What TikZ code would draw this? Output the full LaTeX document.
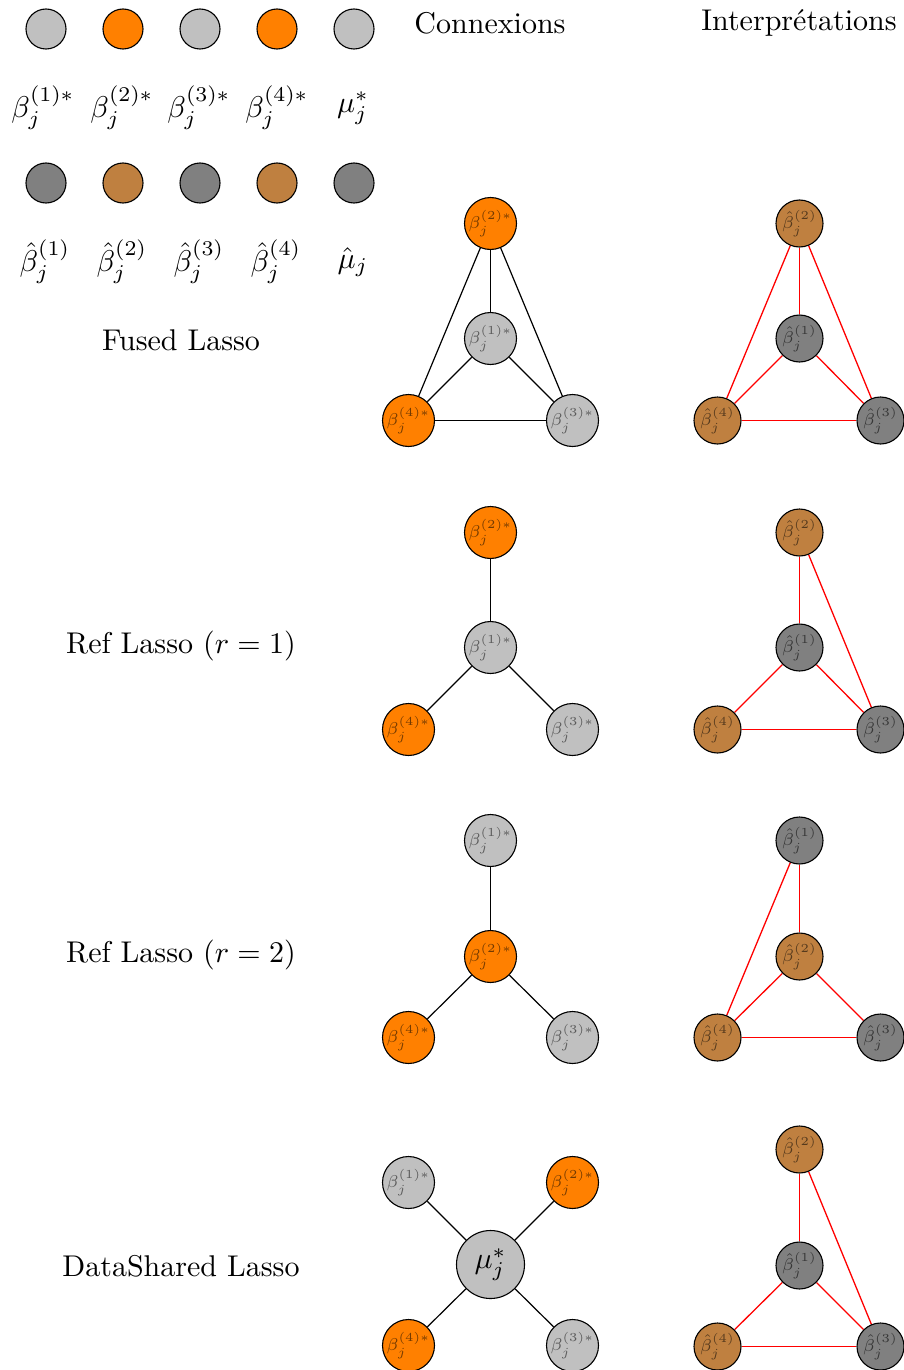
\documentclass[tikz,border=0pt]{standalone}
\usepackage{graphicx}
\usetikzlibrary{backgrounds}
\definecolor{lgray}{RGB}{192,192,192}
\definecolor{dgray}{RGB}{128,128,128}
\definecolor{corange}{RGB}{255,128,0}
\definecolor{cbrown}{RGB}{191,128,64}
\definecolor{tlgray}{RGB}{90,90,90}
\definecolor{tdgray}{RGB}{55,55,55}
\definecolor{torange}{RGB}{115,58,0}
\definecolor{tbrown}{RGB}{86,58,29}
\definecolor{ered}{RGB}{255,0,0}
\newcommand\smlab[1]{\scalebox{2.45}{\scriptsize$#1$}}
\newcommand\biglab[1]{\scalebox{3}{$#1$}}
\newcommand\txtlab[1]{\scalebox{3}{#1}}
\tikzset{
  nd/.style={circle, draw=black, line width=1.1pt, inner sep=0pt},
  st/.style={nd, minimum size=52pt},
  ht/.style={nd, minimum size=47pt},
  mu/.style={nd, minimum size=68pt},
  lg/.style={circle, draw=black, line width=1.1pt, minimum size=40pt, inner sep=0pt},
  cg/.style={fill=lgray, text=tlgray}, co/.style={fill=corange, text=torange},
  hd/.style={fill=dgray, text=tdgray}, hb/.style={fill=cbrown, text=tbrown},
  ce/.style={line width=1.2pt, draw=black},
  ie/.style={line width=1.3pt, draw=ered},
  lbl/.style={inner sep=0pt},
}
\begin{document}
\begin{tikzpicture}[x=1pt,y=-1pt]
\useasboundingbox (0,0) rectangle (904,1370);
% legend
\node[lg,cg] (l1) at (46,29) {};
\node[lg,co] (l2) at (123,29) {};
\node[lg,cg] (l3) at (200,29) {};
\node[lg,co] (l4) at (277,29) {};
\node[lg,cg] (l5) at (354,29) {};
\node[lbl] (t1) at (43,108) {\biglab{\beta_j^{(1)*}}};
\node[lbl] (t2) at (122,108) {\biglab{\beta_j^{(2)*}}};
\node[lbl] (t3) at (199,108) {\biglab{\beta_j^{(3)*}}};
\node[lbl] (t4) at (277,108) {\biglab{\beta_j^{(4)*}}};
\node[lbl] (t5) at (353,108) {\biglab{\mu_j^{*}}};
\node[lg,hd] (m1) at (46,183) {};
\node[lg,hb] (m2) at (123,183) {};
\node[lg,hd] (m3) at (200,183) {};
\node[lg,hb] (m4) at (277,183) {};
\node[lg,hd] (m5) at (354,183) {};
\node[lbl] (u1) at (45,262) {\biglab{\hat\beta_j^{(1)}}};
\node[lbl] (u2) at (122,262) {\biglab{\hat\beta_j^{(2)}}};
\node[lbl] (u3) at (199,262) {\biglab{\hat\beta_j^{(3)}}};
\node[lbl] (u4) at (276,262) {\biglab{\hat\beta_j^{(4)}}};
\node[lbl] (u5) at (353,262) {\biglab{\hat\mu_j}};
% headers
\node[lbl] (h1) at (490,23) {\txtlab{Connexions}};
\node[lbl] (h2) at (799,23) {\txtlab{Interprétations}};
% row labels
\node[lbl] (r1) at (181,340) {\txtlab{Fused Lasso}};
\node[lbl] (r2) at (181,646) {\txtlab{Ref Lasso ($r=1$)}};
\node[lbl] (r3) at (181,955) {\txtlab{Ref Lasso ($r=2$)}};
\node[lbl] (r4) at (181,1266) {\txtlab{DataShared Lasso}};
\begin{scope}[shift={(0.5,0.5)}]
% row 1
\node[st,co] (a1t) at (490,223) {\smlab{\beta_j^{(2)*}}};
\node[st,cg] (a1c) at (490,338) {\smlab{\beta_j^{(1)*}}};
\node[st,co] (a1l) at (408,420) {\smlab{\beta_j^{(4)*}}};
\node[st,cg] (a1r) at (572,420) {\smlab{\beta_j^{(3)*}}};
\node[ht,hb] (b1t) at (799,223) {\smlab{\hat\beta_j^{(2)}}};
\node[ht,hd] (b1c) at (799,338) {\smlab{\hat\beta_j^{(1)}}};
\node[ht,hb] (b1l) at (717,420) {\smlab{\hat\beta_j^{(4)}}};
\node[ht,hd] (b1r) at (880,420) {\smlab{\hat\beta_j^{(3)}}};
% row 2
\node[st,co] (a2t) at (490,532) {\smlab{\beta_j^{(2)*}}};
\node[st,cg] (a2c) at (490,647) {\smlab{\beta_j^{(1)*}}};
\node[st,co] (a2l) at (408,729) {\smlab{\beta_j^{(4)*}}};
\node[st,cg] (a2r) at (572,729) {\smlab{\beta_j^{(3)*}}};
\node[ht,hb] (b2t) at (799,532) {\smlab{\hat\beta_j^{(2)}}};
\node[ht,hd] (b2c) at (799,647) {\smlab{\hat\beta_j^{(1)}}};
\node[ht,hb] (b2l) at (717,729) {\smlab{\hat\beta_j^{(4)}}};
\node[ht,hd] (b2r) at (880,729) {\smlab{\hat\beta_j^{(3)}}};
% row 3
\node[st,cg] (a3t) at (490,840) {\smlab{\beta_j^{(1)*}}};
\node[st,co] (a3c) at (490,956) {\smlab{\beta_j^{(2)*}}};
\node[st,co] (a3l) at (408,1037) {\smlab{\beta_j^{(4)*}}};
\node[st,cg] (a3r) at (572,1037) {\smlab{\beta_j^{(3)*}}};
\node[ht,hd] (b3t) at (799,840) {\smlab{\hat\beta_j^{(1)}}};
\node[ht,hb] (b3c) at (799,956) {\smlab{\hat\beta_j^{(2)}}};
\node[ht,hb] (b3l) at (717,1037) {\smlab{\hat\beta_j^{(4)}}};
\node[ht,hd] (b3r) at (880,1037) {\smlab{\hat\beta_j^{(3)}}};
% row 4
\node[mu,cg,text=black] (a4m) at (490,1264) {\biglab{\mu_j^{*}}};
\node[st,cg] (a4a) at (408,1182) {\smlab{\beta_j^{(1)*}}};
\node[st,co] (a4b) at (572,1182) {\smlab{\beta_j^{(2)*}}};
\node[st,co] (a4l) at (408,1345) {\smlab{\beta_j^{(4)*}}};
\node[st,cg] (a4r) at (572,1345) {\smlab{\beta_j^{(3)*}}};
\node[ht,hb] (b4t) at (799,1149) {\smlab{\hat\beta_j^{(2)}}};
\node[ht,hd] (b4c) at (799,1265) {\smlab{\hat\beta_j^{(1)}}};
\node[ht,hb] (b4l) at (717,1346) {\smlab{\hat\beta_j^{(4)}}};
\node[ht,hd] (b4r) at (880,1346) {\smlab{\hat\beta_j^{(3)}}};
\end{scope}
% edges
\begin{scope}[on background layer]
\draw[ce] (a1t) -- (a1c); \draw[ce] (a1t) -- (a1l); \draw[ce] (a1t) -- (a1r);
\draw[ce] (a1c) -- (a1l); \draw[ce] (a1c) -- (a1r); \draw[ce] (a1l) -- (a1r);
\draw[ie] (b1t) -- (b1c); \draw[ie] (b1t) -- (b1l); \draw[ie] (b1t) -- (b1r);
\draw[ie] (b1c) -- (b1l); \draw[ie] (b1c) -- (b1r); \draw[ie] (b1l) -- (b1r);
\draw[ce] (a2t) -- (a2c); \draw[ce] (a2c) -- (a2l); \draw[ce] (a2c) -- (a2r);
\draw[ie] (b2t) -- (b2c); \draw[ie] (b2t) -- (b2r);
\draw[ie] (b2c) -- (b2l); \draw[ie] (b2c) -- (b2r); \draw[ie] (b2l) -- (b2r);
\draw[ce] (a3t) -- (a3c); \draw[ce] (a3c) -- (a3l); \draw[ce] (a3c) -- (a3r);
\draw[ie] (b3t) -- (b3c); \draw[ie] (b3t) -- (b3l);
\draw[ie] (b3c) -- (b3l); \draw[ie] (b3c) -- (b3r); \draw[ie] (b3l) -- (b3r);
\draw[ce] (a4m) -- (a4a); \draw[ce] (a4m) -- (a4b);
\draw[ce] (a4m) -- (a4l); \draw[ce] (a4m) -- (a4r);
\draw[ie] (b4t) -- (b4c); \draw[ie] (b4t) -- (b4r);
\draw[ie] (b4c) -- (b4l); \draw[ie] (b4c) -- (b4r); \draw[ie] (b4l) -- (b4r);
\end{scope}
\end{tikzpicture}
\end{document}
